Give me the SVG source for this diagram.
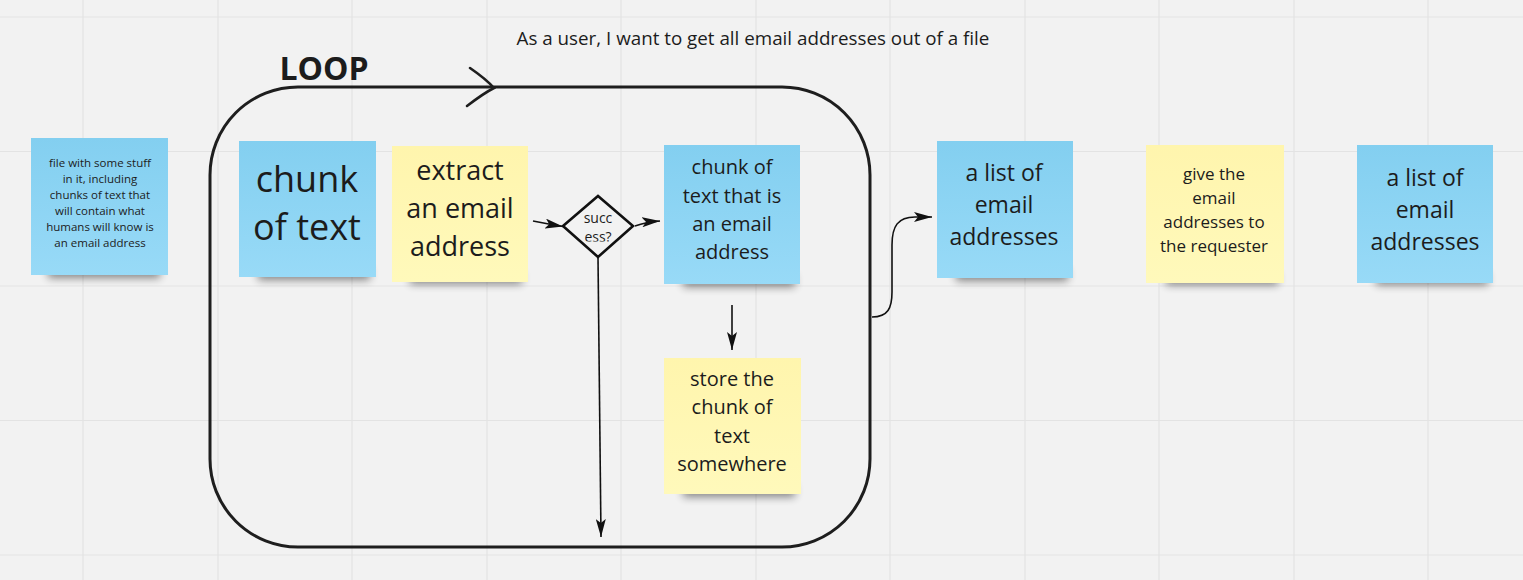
<svg xmlns="http://www.w3.org/2000/svg" width="1523" height="580" viewBox="0 0 1523 580">
<defs>
<style>
.t{font-family:"Open Sans","Noto Sans","Liberation Sans",sans-serif;fill:#1c1c1c;text-anchor:middle}
.blue{fill:url(#gb)}
.yel{fill:url(#gy)}
.sh{fill:#000;opacity:.45;filter:url(#blur)}
.grid{stroke:#e3e3e3;stroke-width:1.2}
.con{fill:none;stroke:#111;stroke-width:1.6}
</style>
<linearGradient id="gb" x1="0" y1="0" x2="0" y2="1"><stop offset="0" stop-color="#83cff0"/><stop offset="1" stop-color="#98daf7"/></linearGradient>
<linearGradient id="gy" x1="0" y1="0" x2="0" y2="1"><stop offset="0" stop-color="#fff5ad"/><stop offset="1" stop-color="#fff9bb"/></linearGradient>
<filter id="blur" x="-20%" y="-100%" width="140%" height="300%"><feGaussianBlur stdDeviation="4"/></filter>
<marker id="ah" markerUnits="userSpaceOnUse" markerWidth="20" markerHeight="10" refX="18" refY="5" orient="auto"><path d="M0,0 L18,5 L0,10 L4,5 z" fill="#111"/></marker>
<clipPath id="dc"><rect x="570" y="200" width="60" height="41.5"/></clipPath>
</defs>
<rect width="1523" height="580" fill="#f2f2f2"/>
<g id="grid" class="grid">
<line x1="83" y1="0" x2="83" y2="580"/><line x1="218" y1="0" x2="218" y2="580"/><line x1="352" y1="0" x2="352" y2="580"/><line x1="487" y1="0" x2="487" y2="580"/><line x1="621" y1="0" x2="621" y2="580"/><line x1="756" y1="0" x2="756" y2="580"/><line x1="890" y1="0" x2="890" y2="580"/><line x1="1025" y1="0" x2="1025" y2="580"/><line x1="1159" y1="0" x2="1159" y2="580"/><line x1="1294" y1="0" x2="1294" y2="580"/><line x1="1428" y1="0" x2="1428" y2="580"/>
<line x1="0" y1="17" x2="1523" y2="17"/><line x1="0" y1="151.5" x2="1523" y2="151.5"/><line x1="0" y1="286" x2="1523" y2="286"/><line x1="0" y1="420.5" x2="1523" y2="420.5"/><line x1="0" y1="555" x2="1523" y2="555"/>
</g>
<text id="title" class="t" x="753" y="45" font-size="18.8">As a user, I want to get all email addresses out of a file</text>
<g id="loop">
<rect x="210" y="87" width="660" height="460" rx="88" fill="none" stroke="#1e1e1e" stroke-width="3"/>
<path d="M470,68 Q486,79 494,88 Q484,93 467,106" fill="none" stroke="#1e1e1e" stroke-width="2.6" stroke-linecap="round"/>
<text class="t" x="324" y="80" font-size="32" font-weight="bold">LOOP</text>
</g>
<g id="file">
<rect class="sh" x="48" y="266" width="112" height="12"/>
<rect class="blue" x="31" y="138" width="137" height="137"/>
<text class="t" font-size="11.5" x="100"><tspan x="100" y="167">file with some stuff</tspan><tspan x="100" y="183">in it, including</tspan><tspan x="100" y="199">chunks of text that</tspan><tspan x="100" y="215">will contain what</tspan><tspan x="100" y="231">humans will know is</tspan><tspan x="100" y="247">an email address</tspan></text>
</g>
<g id="chunk">
<rect class="sh" x="258" y="268" width="112" height="12"/>
<rect class="blue" x="239" y="141" width="137" height="136"/>
<text class="t" font-size="36" x="307"><tspan x="307" y="192">chunk</tspan><tspan x="307" y="240">of text</tspan></text>
</g>
<g id="extract">
<rect class="sh" x="410" y="272" width="112" height="12"/>
<rect class="yel" x="392" y="146" width="136" height="136"/>
<text class="t" font-size="27" x="460"><tspan x="460" y="180">extract</tspan><tspan x="460" y="218">an email</tspan><tspan x="460" y="256">address</tspan></text>
</g>
<g id="decision">
<path d="M563,226 L598,196 L633,226 L598,257 Z" fill="#f2f2f2" stroke="#111" stroke-width="2.6" stroke-linejoin="miter"/>
<text class="t" font-size="14" clip-path="url(#dc)"><tspan x="598" y="223">succ</tspan><tspan x="598" y="242">ess?</tspan></text>
</g>
<g id="match">
<rect class="sh" x="683" y="275" width="112" height="12"/>
<rect class="blue" x="664" y="145" width="136" height="139"/>
<text class="t" font-size="20" x="732"><tspan x="732" y="174">chunk of</tspan><tspan x="732" y="203">text that is</tspan><tspan x="732" y="231">an email</tspan><tspan x="732" y="259">address</tspan></text>
</g>
<g id="store">
<rect class="sh" x="683" y="485" width="112" height="12"/>
<rect class="yel" x="664" y="358" width="137" height="136"/>
<text class="t" font-size="20" x="732"><tspan x="732" y="386">store the</tspan><tspan x="732" y="414">chunk of</tspan><tspan x="732" y="443">text</tspan><tspan x="732" y="471">somewhere</tspan></text>
</g>
<g id="list1">
<rect class="sh" x="956" y="269" width="112" height="12"/>
<rect class="blue" x="937" y="141" width="136" height="137"/>
<text class="t" font-size="23" x="1004"><tspan x="1004" y="181">a list of</tspan><tspan x="1004" y="213">email</tspan><tspan x="1004" y="245">addresses</tspan></text>
</g>
<g id="give">
<rect class="sh" x="1166" y="273" width="112" height="12"/>
<rect class="yel" x="1146" y="145" width="138" height="138"/>
<text class="t" font-size="17" x="1214"><tspan x="1214" y="180">give the</tspan><tspan x="1214" y="204">email</tspan><tspan x="1214" y="228">addresses to</tspan><tspan x="1214" y="252">the requester</tspan></text>
</g>
<g id="list2">
<rect class="sh" x="1376" y="273" width="112" height="12"/>
<rect class="blue" x="1357" y="145" width="136" height="138"/>
<text class="t" font-size="23" x="1425"><tspan x="1425" y="186">a list of</tspan><tspan x="1425" y="218">email</tspan><tspan x="1425" y="250">addresses</tspan></text>
</g>
<g id="connectors" class="con">
<path d="M533,221 Q548,224 563,226.5" marker-end="url(#ah)"/>
<path d="M635,226 Q646,222 660,221" marker-end="url(#ah)"/>
<path d="M598,257 L601,537" marker-end="url(#ah)"/>
<path d="M732,305 L732,350" marker-end="url(#ah)"/>
<path d="M872,317 C888,317 892,308 892,292 L892,245 C892,226 898,217 915,217 L932,217" marker-end="url(#ah)"/>
</g>
</svg>
